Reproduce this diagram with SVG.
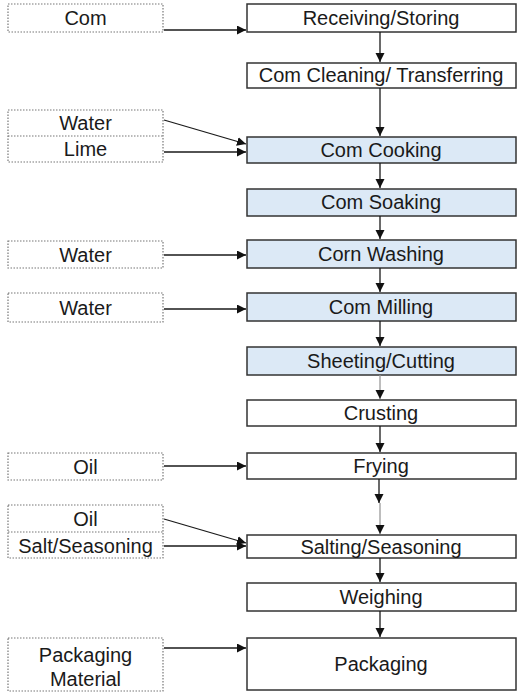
<svg xmlns="http://www.w3.org/2000/svg" width="517" height="692" viewBox="0 0 517 692">
  <style>
    text { font-family: "Liberation Sans", Arial, sans-serif; font-size: 20px; fill: #1a1a1a; text-anchor: middle; }
    .step { fill: #ffffff; stroke: #333333; stroke-width: 1.5; }
    .step.wet { fill: #dce9f6; }
    .input { fill: #ffffff; stroke: #777777; stroke-width: 1.2; stroke-dasharray: 1.5 1.5; }
    .sep { stroke: #777777; stroke-width: 1.2; stroke-dasharray: 1.5 1.5; }
    .flow { stroke: #1a1a1a; stroke-width: 1.3; fill: none; marker-end: url(#head); }
    .flow.faint { stroke: #9a9a9a; }
  </style>
  <defs>
    <marker id="head" markerUnits="userSpaceOnUse" markerWidth="10" markerHeight="10" refX="9" refY="4.5" orient="auto">
      <path d="M0,0 L9,4.5 L0,9 Z" fill="#111111"/>
    </marker>
  </defs>

  <rect width="517" height="692" fill="#ffffff"/>

  <!-- process steps -->
  <g id="receiving"><rect class="step" x="247" y="4" width="269" height="28"/><text x="381" y="25">Receiving/Storing</text></g>
  <g id="cleaning"><rect class="step" x="247" y="63" width="269" height="25"/><text x="381" y="82">Com Cleaning/ Transferring</text></g>
  <g id="cooking"><rect class="step wet" x="247" y="137" width="269" height="26"/><text x="381" y="157">Com Cooking</text></g>
  <g id="soaking"><rect class="step wet" x="247" y="189" width="269" height="27"/><text x="381" y="209">Com Soaking</text></g>
  <g id="washing"><rect class="step wet" x="247" y="240" width="269" height="28"/><text x="381" y="261">Corn Washing</text></g>
  <g id="milling"><rect class="step wet" x="247" y="293" width="269" height="28"/><text x="381" y="314">Com Milling</text></g>
  <g id="sheeting"><rect class="step wet" x="247" y="347" width="269" height="28"/><text x="381" y="368">Sheeting/Cutting</text></g>
  <g id="crusting"><rect class="step" x="247" y="400" width="269" height="26"/><text x="381" y="420">Crusting</text></g>
  <g id="frying"><rect class="step" x="247" y="453" width="269" height="26"/><text x="381" y="473">Frying</text></g>
  <g id="salting"><rect class="step" x="247" y="535" width="269" height="23"/><text x="381" y="554">Salting/Seasoning</text></g>
  <g id="weighing"><rect class="step" x="247" y="583" width="269" height="28"/><text x="381" y="604">Weighing</text></g>
  <g id="packaging"><rect class="step" x="247" y="638" width="269" height="52"/><text x="381" y="671">Packaging</text></g>

  <!-- inputs -->
  <g id="in-corn"><rect class="input" x="8" y="4" width="155" height="28"/><text x="85.5" y="25">Com</text></g>
  <g id="in-water-lime">
    <rect class="input" x="8" y="110" width="155" height="52"/>
    <line class="sep" x1="8" y1="136" x2="163" y2="136"/>
    <text x="85.5" y="130">Water</text>
    <text x="85.5" y="156">Lime</text>
  </g>
  <g id="in-water-wash"><rect class="input" x="8" y="241" width="155" height="27"/><text x="85.5" y="262">Water</text></g>
  <g id="in-water-mill"><rect class="input" x="8" y="293" width="155" height="29"/><text x="85.5" y="315">Water</text></g>
  <g id="in-oil-fry"><rect class="input" x="8" y="453" width="155" height="27"/><text x="85.5" y="474">Oil</text></g>
  <g id="in-oil-salt">
    <rect class="input" x="8" y="505" width="155" height="53"/>
    <line class="sep" x1="8" y1="532" x2="163" y2="532"/>
    <text x="85.5" y="526">Oil</text>
    <text x="85.5" y="553">Salt/Seasoning</text>
  </g>
  <g id="in-pack-material">
    <rect class="input" x="8" y="638" width="155" height="53"/>
    <text x="85.5" y="662">Packaging</text>
    <text x="85.5" y="686">Material</text>
  </g>

  <!-- connectors -->
  <g id="connectors">
    <line class="flow" x1="164" y1="30" x2="246" y2="30"/>
    <line class="flow" x1="164" y1="120" x2="246" y2="144"/>
    <line class="flow" x1="164" y1="152" x2="246" y2="152"/>
    <line class="flow" x1="164" y1="255" x2="246" y2="255"/>
    <line class="flow" x1="164" y1="309" x2="246" y2="309"/>
    <line class="flow" x1="164" y1="466" x2="246" y2="466"/>
    <line class="flow" x1="164" y1="519" x2="246" y2="543"/>
    <line class="flow" x1="164" y1="546" x2="246" y2="546"/>
    <line class="flow" x1="164" y1="648" x2="246" y2="648"/>

    <line class="flow" x1="380" y1="32" x2="380" y2="62"/>
    <line class="flow" x1="380" y1="88" x2="380" y2="136"/>
    <line class="flow" x1="380" y1="163" x2="380" y2="188"/>
    <line class="flow" x1="380" y1="216" x2="380" y2="239"/>
    <line class="flow" x1="380" y1="268" x2="380" y2="292"/>
    <line class="flow" x1="380" y1="321" x2="380" y2="346"/>
    <line class="flow faint" x1="380" y1="375" x2="380" y2="399"/>
    <line class="flow" x1="380" y1="426" x2="380" y2="452"/>
    <line class="flow" x1="379" y1="479" x2="379" y2="503"/>
    <line class="flow faint" x1="380" y1="503" x2="380" y2="534"/>
    <line class="flow" x1="380" y1="558" x2="380" y2="582"/>
    <line class="flow" x1="380" y1="611" x2="380" y2="637"/>
  </g>
</svg>
